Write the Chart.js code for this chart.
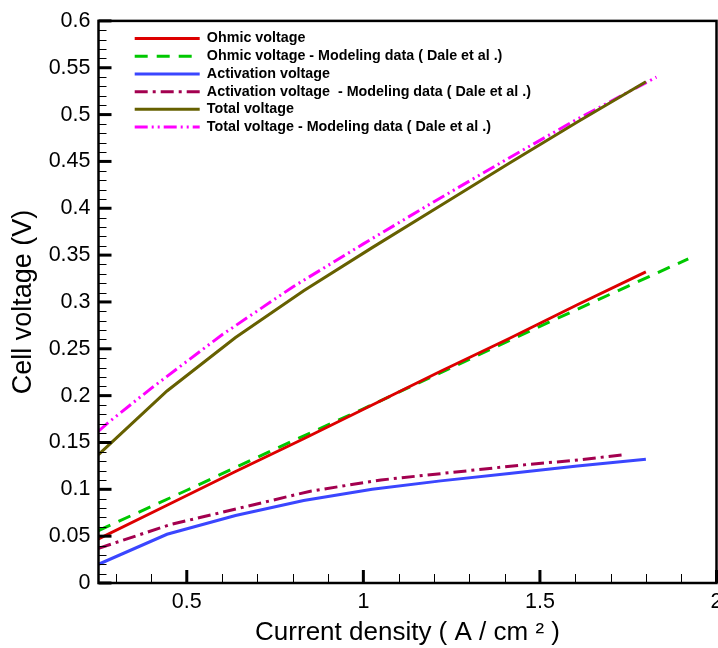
<!DOCTYPE html>
<html lang="en">
<head>
    <meta charset="UTF-8">
    <title>Cell voltage vs current density</title>
    <script src="https://cdn.jsdelivr.net/npm/chart.js@4"></script>
    <style>
        html, body { margin: 0; padding: 0; background: #fff; overflow: hidden; }
        #wrap { position: absolute; left: 0; top: 0; width: 730px; height: 648px; }
    </style>
</head>
<body>
    <div id="wrap"><canvas id="voltageChart"></canvas></div>

    <script>
        // present model (A/cm2 -> V)
        const modelCurrent = [0.25, 0.444, 0.638, 0.831, 1.025, 1.219, 1.413, 1.606, 1.8];
        const ohmicVoltage = [0.047, 0.083, 0.119, 0.154, 0.190, 0.226, 0.261, 0.297, 0.332];
        const activationVoltage = [0.020, 0.052, 0.072, 0.088, 0.100, 0.109, 0.117, 0.125, 0.132];
        const totalVoltage = [0.137, 0.205, 0.262, 0.312, 0.358, 0.403, 0.448, 0.492, 0.535];

        // modeling data, Dale et al.
        const daleOhmicCurrent = [0.25, 0.5, 0.75, 1.0, 1.25, 1.5, 1.75, 1.92];
        const daleOhmicVoltage = [0.056, 0.099, 0.143, 0.186, 0.230, 0.274, 0.317, 0.346];
        const daleActCurrent = [0.25, 0.45, 0.65, 0.85, 1.05, 1.25, 1.45, 1.6, 1.74];
        const daleActVoltage = [0.037, 0.062, 0.080, 0.098, 0.110, 0.118, 0.126, 0.131, 0.137];
        const daleTotalCurrent = [0.25, 0.28, 0.4, 0.6, 0.8, 1.0, 1.2, 1.4, 1.6, 1.83];
        const daleTotalVoltage = [0.162, 0.172, 0.208, 0.265, 0.316, 0.362, 0.407, 0.451, 0.494, 0.540];

        const xMin = 0.25, xMax = 2, xStep = 0.5, xMinor = 0.1;
        const yMin = 0, yMax = 0.6, yStep = 0.05, yMinor = 0.01;

        const FONT = "'Liberation Sans', Arial, sans-serif";

        function pairs(xs, ys) {
            return xs.map((x, i) => ({ x: x, y: ys[i] }));
        }

        function series(label, xs, ys, color, dash) {
            return {
                label: label,
                data: pairs(xs, ys),
                borderColor: color,
                backgroundColor: color,
                borderWidth: 3,
                borderDash: dash,
                pointRadius: 0,
                tension: 0,
                fill: false
            };
        }

        const datasets = [
            series('Ohmic voltage', modelCurrent, ohmicVoltage, '#dd0000', []),
            series('Ohmic voltage - Modeling data ( Dale et al .)', daleOhmicCurrent, daleOhmicVoltage, '#00c800', [13, 9]),
            series('Activation voltage', modelCurrent, activationVoltage, '#3a46ff', []),
            series('Activation voltage  - Modeling data ( Dale et al .)', daleActCurrent, daleActVoltage, '#a3004f', [13, 5, 3, 5]),
            series('Total voltage', modelCurrent, totalVoltage, '#666000', []),
            series('Total voltage - Modeling data ( Dale et al .)', daleTotalCurrent, daleTotalVoltage, '#ff00ff', [13, 4, 2, 4, 2, 4])
        ];

        function fmt(v) {
            return String(+Number(v).toFixed(2));
        }

        // legend sits inside the plot frame, near the top left
        const legendInside = {
            id: 'legendInside',
            afterLayout(chart) {
                const lg = chart.legend, ca = chart.chartArea;
                if (!lg) return;
                const w = lg.width, h = lg.height;
                lg.left = ca.left + 32.8;
                lg.right = lg.left + w;
                lg.top = ca.top + 7.1;
                lg.bottom = lg.top + h;
            }
        };

        // frame plus inward major/minor ticks
        const frameTicks = {
            id: 'frameTicks',
            afterDatasetsDraw(chart) {
                const ctx = chart.ctx, ca = chart.chartArea;
                const xs = chart.scales.x, ys = chart.scales.y;
                ctx.save();
                ctx.strokeStyle = '#000';

                ctx.lineWidth = 1;
                for (let k = Math.ceil(xMin / xMinor - 1e-9); k <= Math.floor(xMax / xMinor + 1e-9); k++) {
                    const v = k * xMinor;
                    if (Math.abs(v / xStep - Math.round(v / xStep)) < 1e-6) continue;
                    const px = Math.round(xs.getPixelForValue(v)) + 0.5;
                    ctx.beginPath();
                    ctx.moveTo(px, ca.bottom);
                    ctx.lineTo(px, ca.bottom - 9);
                    ctx.stroke();
                }
                for (let k = Math.ceil(yMin / yMinor); k <= Math.floor(yMax / yMinor + 1e-9); k++) {
                    const v = k * yMinor;
                    if (Math.abs(v / yStep - Math.round(v / yStep)) < 1e-6) continue;
                    const py = Math.round(ys.getPixelForValue(v)) + 0.5;
                    ctx.beginPath();
                    ctx.moveTo(ca.left, py);
                    ctx.lineTo(ca.left + 8, py);
                    ctx.stroke();
                }

                ctx.lineWidth = 3;
                xs.ticks.forEach(t => {
                    if (Math.abs(t.value / xStep - Math.round(t.value / xStep)) > 1e-6) return;
                    const px = xs.getPixelForValue(t.value);
                    ctx.beginPath();
                    ctx.moveTo(px, ca.bottom);
                    ctx.lineTo(px, ca.bottom - 13);
                    ctx.stroke();
                });
                ys.ticks.forEach(t => {
                    const py = ys.getPixelForValue(t.value);
                    ctx.beginPath();
                    ctx.moveTo(ca.left, py);
                    ctx.lineTo(ca.left + 13, py);
                    ctx.stroke();
                });

                ctx.lineWidth = 2.5;
                ctx.strokeRect(ca.left, ca.top, ca.right - ca.left, ca.bottom - ca.top);
                ctx.restore();
            }
        };

        const ctx = document.getElementById('voltageChart').getContext('2d');
        const chart = new Chart(ctx, {
            type: 'line',
            data: { datasets: datasets },
            plugins: [legendInside, frameTicks],
            options: {
                responsive: true,
                maintainAspectRatio: false,
                devicePixelRatio: 1,
                animation: false,
                layout: { padding: { left: 0, top: 20, right: 13.5, bottom: 0 } },
                plugins: {
                    tooltip: { enabled: false },
                    legend: {
                        position: 'chartArea',
                        align: 'start',
                        labels: {
                            usePointStyle: true,
                            pointStyle: 'line',
                            pointStyleWidth: 65,
                            padding: 3.4,
                            color: '#000',
                            font: { family: FONT, size: 14.3, weight: 'bold' },
                            generateLabels(chart) {
                                const items = Chart.defaults.plugins.legend.labels.generateLabels(chart);
                                items.forEach(it => {
                                    const ds = chart.data.datasets[it.datasetIndex];
                                    it.lineDash = ds.borderDash;
                                    it.lineWidth = ds.borderWidth;
                                    it.strokeStyle = ds.borderColor;
                                });
                                return items;
                            }
                        }
                    }
                },
                scales: {
                    x: {
                        type: 'linear',
                        min: xMin,
                        max: xMax,
                        afterFit(scale) { scale.height = 65; },
                        grid: { display: false, drawTicks: false },
                        border: { display: false },
                        ticks: {
                            stepSize: xStep,
                            padding: 6,
                            color: '#000',
                            maxRotation: 0,
                            font: { family: FONT, size: 21.5 },
                            callback: v => (Math.abs(v / xStep - Math.round(v / xStep)) < 1e-6 ? fmt(v) : '')
                        },
                        title: {
                            display: true,
                            text: 'Current density ( A / cm ² )',
                            color: '#000',
                            padding: { top: 0, bottom: 0 },
                            font: { family: FONT, size: 26 }
                        }
                    },
                    y: {
                        min: yMin,
                        max: yMax,
                        afterFit(scale) { scale.width = 98.5; },
                        grid: { display: false, drawTicks: false },
                        border: { display: false },
                        ticks: {
                            stepSize: yStep,
                            padding: 8,
                            color: '#000',
                            font: { family: FONT, size: 21.5 },
                            callback: v => fmt(v)
                        },
                        title: {
                            display: true,
                            text: 'Cell voltage (V)',
                            color: '#000',
                            padding: { top: 7, bottom: 0 },
                            font: { family: FONT, size: 27 }
                        }
                    }
                }
            }
        });
    </script>
</body>
</html>
